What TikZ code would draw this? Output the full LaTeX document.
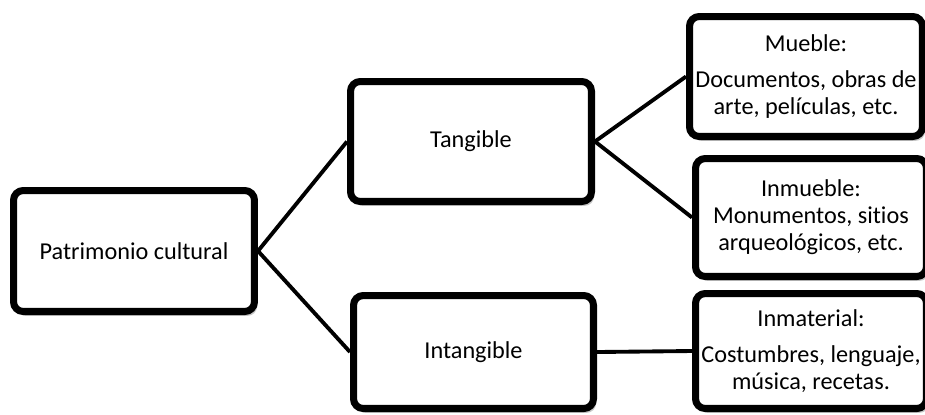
\documentclass[tikz,border=0pt]{standalone}
\usepackage{fontspec}
\setmainfont{Carlito}[Ligatures=NoCommon]
\usetikzlibrary{shadows}

\begin{document}
\begin{tikzpicture}[x=0.02cm,y=0.02cm]
\tikzstyle{every node}+=[font=\fontsize{13.8}{15.4}\selectfont]
\tikzstyle{caja}=[draw=black, line width=4pt, rounded corners=5.5pt, fill=white,
  align=center, inner sep=2pt,
  drop shadow={shadow xshift=1.5pt, shadow yshift=-2.5pt, opacity=0.22, fill=black}]
\tikzstyle{enlace}=[black, line width=2.2pt]
\useasboundingbox (0,0) rectangle (925,-414);
\node [caja, minimum width=4.82cm, minimum height=2.42cm] (patrimonio) at (134,-251) {Patrimonio cultural};
\node [caja, minimum width=4.82cm, minimum height=2.40cm] (tangible) at (471,-141.5) {Tangible};
\node [caja, minimum width=4.80cm, minimum height=2.26cm] (intangible) at (473.5,-352) {Intangible};
\node [caja, minimum width=4.66cm, minimum height=2.40cm] (mueble) at (806,-76.5) {Mueble:\\[5pt]Documentos, obras de\\arte, películas, etc.};
\node [caja, minimum width=4.62cm, minimum height=2.36cm] (inmueble) at (811,-217.5) {Inmueble:\\Monumentos, sitios\\arqueológicos, etc.};
\node [caja, minimum width=4.62cm, minimum height=2.30cm] (inmaterial) at (811,-351) {Inmaterial:\\[5pt]Costumbres, lenguaje,\\música, recetas.};
\draw [enlace] (patrimonio.east) -- (tangible.west);
\draw [enlace] (patrimonio.east) -- (intangible.west);
\draw [enlace] (tangible.east) -- (mueble.west);
\draw [enlace] (tangible.east) -- (inmueble.west);
\draw [enlace] (intangible.east) -- (inmaterial.west);
\end{tikzpicture}
\end{document}
